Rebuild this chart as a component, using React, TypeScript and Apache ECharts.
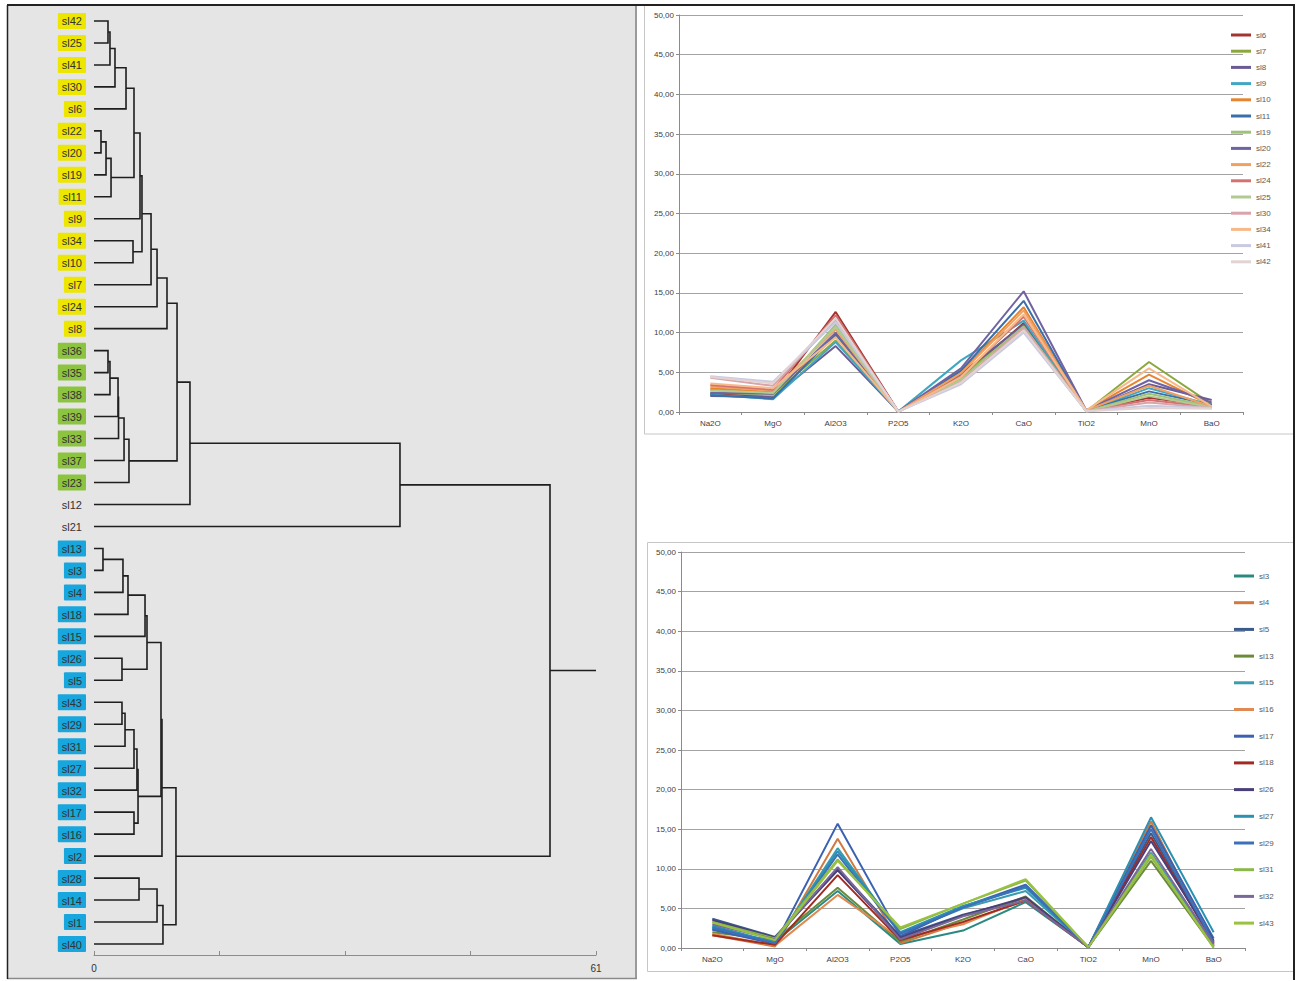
import React, { useEffect, useRef } from 'react';
import * as echarts from 'echarts';

// ---------- Dendrogram data ----------
const leafOrder = [
  'sl42', 'sl25', 'sl41', 'sl30', 'sl6', 'sl22', 'sl20', 'sl19', 'sl11', 'sl9', 'sl34', 'sl10', 'sl7', 'sl24', 'sl8',
  'sl36', 'sl35', 'sl38', 'sl39', 'sl33', 'sl37', 'sl23', 'sl12', 'sl21',
  'sl13', 'sl3', 'sl4', 'sl18', 'sl15', 'sl26', 'sl5', 'sl43', 'sl29', 'sl31', 'sl27', 'sl32', 'sl17', 'sl16', 'sl2',
  'sl28', 'sl14', 'sl1', 'sl40',
];
const yellowLeaves = ['sl42', 'sl25', 'sl41', 'sl30', 'sl6', 'sl22', 'sl20', 'sl19', 'sl11', 'sl9', 'sl34', 'sl10', 'sl7', 'sl24', 'sl8'];
const greenLeaves = ['sl36', 'sl35', 'sl38', 'sl39', 'sl33', 'sl37', 'sl23'];
const blueLeaves = ['sl13', 'sl3', 'sl4', 'sl18', 'sl15', 'sl26', 'sl5', 'sl43', 'sl29', 'sl31', 'sl27', 'sl32', 'sl17', 'sl16', 'sl2', 'sl28', 'sl14', 'sl1', 'sl40'];

// merges: [childA, childB, distance]; numbers refer to earlier merges
const merges: [string | number, string | number, number][] = [
  ['sl42', 'sl25', 1.70], // 0
  [0, 'sl41', 1.94], // 1
  [1, 'sl30', 2.55], // 2
  [2, 'sl6', 3.89], // 3
  ['sl22', 'sl20', 0.85], // 4
  [4, 'sl19', 1.46], // 5
  [5, 'sl11', 2.07], // 6
  [3, 6, 4.86], // 7
  ['sl34', 'sl10', 4.74], // 8
  [7, 'sl9', 5.59], // 9
  [9, 8, 5.83], // 10
  [10, 'sl7', 6.93], // 11
  [11, 'sl24', 7.66], // 12
  [12, 'sl8', 8.87], // 13
  ['sl36', 'sl35', 1.70], // 14
  [14, 'sl38', 1.94], // 15
  [15, 'sl39', 2.92], // 16
  [16, 'sl33', 2.98], // 17
  [17, 'sl37', 3.65], // 18
  [18, 'sl23', 4.25], // 19
  [13, 19, 10.09], // 20
  [20, 'sl12', 11.66], // 21
  [21, 'sl21', 37.18], // 22
  ['sl13', 'sl3', 1.09], // 23
  [23, 'sl4', 3.52], // 24
  [24, 'sl18', 4.13], // 25
  [25, 'sl15', 6.20], // 26
  ['sl26', 'sl5', 3.40], // 27
  [26, 27, 6.44], // 28
  ['sl43', 'sl29', 3.40], // 29
  [29, 'sl31', 3.77], // 30
  [30, 'sl27', 4.86], // 31
  [31, 'sl32', 5.22], // 32
  ['sl17', 'sl16', 4.86], // 33
  [32, 33, 5.35], // 34
  [28, 34, 8.14], // 35
  [35, 'sl2', 8.26], // 36
  ['sl28', 'sl14', 5.47], // 37
  [37, 'sl1', 7.66], // 38
  [38, 'sl40', 8.38], // 39
  [36, 39, 9.96], // 40
  [22, 40, 55.41], // 41
];
const distanceMax = 61;
const distanceTicks = [0, 61];

// ---------- Line chart data ----------
const oxides = ['Na2O', 'MgO', 'Al2O3', 'P2O5', 'K2O', 'CaO', 'TiO2', 'MnO', 'BaO'];
const valueTicks = { min: 0, max: 50, interval: 5 };

const topNames = ['sl6', 'sl7', 'sl8', 'sl9', 'sl10', 'sl11', 'sl19', 'sl20', 'sl22', 'sl24', 'sl25', 'sl30', 'sl34', 'sl41', 'sl42'];
const topColors = ['#a33530', '#8ba83e', '#6b5b92', '#3fa7c2', '#e7842f', '#3b6fa9', '#9ec27a', '#6f63a2', '#f0a060', '#d47272', '#b2ca92', '#d9a3aa', '#f6b98a', '#c9c9e2', '#e2d3d3'];
const top_sl6 = [2.3, 2.0, 12.6, 0.05, 4.3, 11.2, 0.15, 1.8, 0.8];
const top_sl7 = [2.8, 2.2, 9.0, 0.05, 4.6, 10.5, 0.1, 6.3, 1.0];
const top_sl8 = [2.0, 1.9, 8.3, 0.05, 4.8, 11.0, 0.1, 3.5, 1.5];
const top_sl9 = [2.2, 1.6, 8.8, 0.05, 6.5, 11.5, 0.1, 3.0, 0.9];
const top_sl10 = [3.0, 2.5, 9.6, 0.05, 5.0, 13.2, 0.2, 4.7, 0.8];
const top_sl11 = [2.1, 1.7, 9.8, 0.05, 5.2, 14.0, 0.15, 2.6, 0.9];
const top_sl19 = [2.5, 2.1, 11.0, 0.05, 4.2, 10.8, 0.1, 2.3, 0.7];
const top_sl20 = [2.4, 2.3, 10.0, 0.05, 5.5, 15.2, 0.2, 4.0, 1.2];
const top_sl22 = [3.2, 2.7, 10.4, 0.05, 4.9, 12.8, 0.2, 3.3, 0.7];
const top_sl24 = [3.4, 2.8, 12.2, 0.05, 4.5, 12.0, 0.15, 1.5, 0.6];
const top_sl25 = [2.7, 2.4, 10.7, 0.05, 4.0, 10.2, 0.1, 2.0, 0.6];
const top_sl30 = [4.3, 3.3, 11.6, 0.05, 3.8, 10.6, 0.1, 1.2, 0.5];
const top_sl34 = [3.6, 3.0, 9.4, 0.05, 4.4, 12.3, 0.2, 5.5, 0.7];
const top_sl41 = [4.5, 3.8, 11.3, 0.05, 3.5, 10.0, 0.1, 0.8, 0.5];
const top_sl42 = [4.4, 3.6, 11.8, 0.05, 3.7, 10.3, 0.1, 0.5, 0.4];
const topValues = [top_sl6, top_sl7, top_sl8, top_sl9, top_sl10, top_sl11, top_sl19, top_sl20, top_sl22, top_sl24, top_sl25, top_sl30, top_sl34, top_sl41, top_sl42];

const bottomNames = ['sl3', 'sl4', 'sl5', 'sl13', 'sl15', 'sl16', 'sl17', 'sl18', 'sl26', 'sl27', 'sl29', 'sl31', 'sl32', 'sl43'];
const bottomColors = ['#2a8a80', '#d07a40', '#3a5a8a', '#6b8a3a', '#3b9bb1', '#e08a52', '#3b62b0', '#a02b22', '#4a3f7b', '#2b91b2', '#3b71b8', '#8ab84a', '#7a6899', '#9ac240'];
const bot_sl3 = [2.4, 0.8, 7.2, 0.5, 2.2, 5.8, 0.1, 12.0, 0.2];
const bot_sl4 = [1.6, 0.2, 13.8, 0.6, 3.2, 6.0, 0.1, 16.0, 0.3];
const bot_sl5 = [3.7, 1.4, 10.0, 1.5, 4.2, 6.2, 0.1, 14.5, 0.8];
const bot_sl13 = [2.0, 1.0, 7.6, 0.8, 3.6, 6.5, 0.1, 11.0, 0.1];
const bot_sl15 = [2.6, 0.6, 12.6, 1.8, 5.0, 7.2, 0.1, 12.0, 0.3];
const bot_sl16 = [1.8, 0.3, 6.7, 1.2, 3.0, 6.2, 0.1, 15.5, 0.4];
const bot_sl17 = [2.3, 0.5, 15.7, 1.5, 5.2, 8.0, 0.1, 15.5, 1.2];
const bot_sl18 = [1.6, 0.4, 9.2, 1.0, 3.3, 6.0, 0.1, 14.0, 0.6];
const bot_sl26 = [3.5, 1.3, 9.8, 1.3, 4.1, 6.4, 0.1, 13.5, 0.9];
const bot_sl27 = [2.8, 0.7, 12.2, 2.0, 5.3, 7.6, 0.1, 16.5, 2.0];
const bot_sl29 = [2.6, 0.6, 11.8, 1.8, 5.1, 7.8, 0.1, 15.0, 0.7];
const bot_sl31 = [3.3, 1.2, 11.2, 2.4, 5.6, 8.5, 0.1, 11.5, 0.2];
const bot_sl32 = [3.0, 1.1, 10.2, 1.1, 4.0, 6.0, 0.1, 12.5, 0.5];
const bot_sl43 = [3.2, 1.0, 11.0, 2.6, 5.6, 8.7, 0.1, 11.8, 0.0];
const bottomValues = [bot_sl3, bot_sl4, bot_sl5, bot_sl13, bot_sl15, bot_sl16, bot_sl17, bot_sl18, bot_sl26, bot_sl27, bot_sl29, bot_sl31, bot_sl32, bot_sl43];

function buildDendro() {
  const nodeY: number[] = [];
  const resolve = (ref: string | number) => {
    if (typeof ref === 'string') return { y: leafOrder.indexOf(ref), h: 0 };
    return { y: nodeY[ref], h: merges[ref][2] };
  };
  const items: number[][] = [];
  merges.forEach((m, i) => {
    const a = resolve(m[0]);
    const b = resolve(m[1]);
    nodeY[i] = (a.y + b.y) / 2;
    items.push([a.y, a.h, b.y, b.h, m[2]]);
  });
  const last = merges.length - 1;
  return { items, rootY: nodeY[last], rootH: merges[last][2] };
}

const labelFont = '"Liberation Sans", Arial, sans-serif';

export default function App() {
  const ref = useRef<HTMLDivElement>(null);
  useEffect(() => {
    if (!ref.current) return;
    const chart = echarts.init(ref.current, undefined, { renderer: 'svg' });
    const dendro = buildDendro();

    const lineYAxis = (gridIndex: number) => ({
      type: 'value', gridIndex, min: valueTicks.min, max: valueTicks.max, interval: valueTicks.interval,
      axisLine: { show: true, lineStyle: { color: '#8a8a8a' } },
      axisTick: { show: true, length: 3, lineStyle: { color: '#8a8a8a' } },
      axisLabel: { fontSize: 8, color: '#404040', margin: 5, fontFamily: labelFont, formatter: (v: number) => v.toFixed(2).replace('.', ',') },
      splitLine: { show: true, lineStyle: { color: '#a3a3a3', width: 1 } },
    });
    const lineXAxis = (gridIndex: number) => ({
      type: 'category', gridIndex, data: oxides, boundaryGap: true,
      axisLine: { lineStyle: { color: '#8a8a8a' } },
      axisTick: { show: true, length: 3, alignWithLabel: false, lineStyle: { color: '#8a8a8a' } },
      axisLabel: { fontSize: 8, color: '#404040', margin: 7, fontFamily: labelFont },
    });

    const topSeries = topNames.map((n, i) => ({
      name: n, type: 'line', xAxisIndex: 1, yAxisIndex: 2, data: topValues[i], showSymbol: false,
      color: topColors[i], lineStyle: { width: 2, color: topColors[i] }, z: 3,
    }));
    const bottomSeries = bottomNames.map((n, i) => ({
      name: n, type: 'line', xAxisIndex: 2, yAxisIndex: 3, data: bottomValues[i], showSymbol: false,
      color: bottomColors[i], lineStyle: { width: 2, color: bottomColors[i] }, z: 3,
    }));

    const groupOf = (name: string) =>
      yellowLeaves.includes(name) ? 'yel' : greenLeaves.includes(name) ? 'grn' : blueLeaves.includes(name) ? 'blu' : 'non';
    const richBase = { fontSize: 11, color: '#333', fontFamily: labelFont, padding: [3, 4, 2, 4], borderRadius: 1 };

    const option: any = {
      animation: false,
      backgroundColor: '#ffffff',
      textStyle: { fontFamily: labelFont },
      graphic: [
        { type: 'rect', z: -1, shape: { x: 7, y: 5, width: 629, height: 973 }, style: { fill: '#e5e5e5' }, silent: true },
        { type: 'line', z: 100, shape: { x1: 636, y1: 5, x2: 636, y2: 978 }, style: { stroke: '#9a9a9a', lineWidth: 2 }, silent: true },
        { type: 'line', z: 100, shape: { x1: 7, y1: 978.5, x2: 637, y2: 978.5 }, style: { stroke: '#8a8a8a', lineWidth: 1.5 }, silent: true },
        { type: 'rect', z: 50, shape: { x: 644.5, y: 5.5, width: 649, height: 428.5 }, style: { fill: 'none', stroke: '#c6c6c6', lineWidth: 1 }, silent: true },
        { type: 'rect', z: 50, shape: { x: 647.5, y: 542.5, width: 646, height: 429 }, style: { fill: 'none', stroke: '#c6c6c6', lineWidth: 1 }, silent: true },
        { type: 'line', z: 100, shape: { x1: 7, y1: 5, x2: 1295, y2: 5 }, style: { stroke: '#222', lineWidth: 2 }, silent: true },
        { type: 'line', z: 100, shape: { x1: 7.5, y1: 5, x2: 7.5, y2: 979 }, style: { stroke: '#222', lineWidth: 1.5 }, silent: true },
        { type: 'line', z: 100, shape: { x1: 1294, y1: 5, x2: 1294, y2: 980 }, style: { stroke: '#222', lineWidth: 2 }, silent: true },
      ],
      grid: [
        { left: 94, top: 10, width: 502, height: 945 },
        { left: 679, top: 15, width: 564, height: 397 },
        { left: 681, top: 552, width: 564, height: 396 },
      ],
      xAxis: [
        {
          type: 'value', gridIndex: 0, min: 0, max: distanceMax, interval: distanceMax / 4, position: 'bottom',
          axisLine: { onZero: false, lineStyle: { color: '#8c8c8c', width: 1 } },
          axisTick: { show: true, inside: true, length: 4, lineStyle: { color: '#8c8c8c' } },
          axisLabel: { fontSize: 10, color: '#333', margin: 8, fontFamily: labelFont, formatter: (v: number) => (distanceTicks.includes(v) ? String(v) : '') },
          splitLine: { show: false },
        },
        lineXAxis(1),
        lineXAxis(2),
      ],
      yAxis: [
        { type: 'value', gridIndex: 0, min: -0.5, max: leafOrder.length - 0.5, inverse: true, show: false },
        {
          type: 'category', gridIndex: 0, data: leafOrder, inverse: true, position: 'left',
          axisLine: { show: false }, axisTick: { show: false }, splitLine: { show: false },
          axisLabel: {
            margin: 8, interval: 0,
            formatter: (v: string) => `{${groupOf(v)}|${v}}`,
            rich: {
              yel: { ...richBase, backgroundColor: '#ece600' },
              grn: { ...richBase, backgroundColor: '#8cc43f' },
              blu: { ...richBase, backgroundColor: '#17a6de' },
              non: { ...richBase },
            },
          },
        },
        lineYAxis(1),
        lineYAxis(2),
      ],
      legend: [
        {
          data: topNames, orient: 'vertical', left: 1231, top: 29, itemWidth: 20, itemHeight: 3, icon: 'rect',
          itemGap: 4.2, padding: 0, selectedMode: false,
          textStyle: { fontSize: 8, color: '#595959', lineHeight: 12, fontFamily: labelFont },
        },
        {
          data: bottomNames, orient: 'vertical', left: 1234, top: 570, itemWidth: 20, itemHeight: 3, icon: 'rect',
          itemGap: 14.7, padding: 0, selectedMode: false,
          textStyle: { fontSize: 8, color: '#595959', lineHeight: 12, fontFamily: labelFont },
        },
      ],
      series: [
        {
          type: 'custom', xAxisIndex: 0, yAxisIndex: 0, data: dendro.items, clip: false,
          encode: { x: [1, 3, 4], y: [0, 2] },
          renderItem: (params: any, api: any) => {
            const ya = api.value(0), ha = api.value(1), yb = api.value(2), hb = api.value(3), h = api.value(4);
            const pts = [api.coord([ha, ya]), api.coord([h, ya]), api.coord([h, yb]), api.coord([hb, yb])];
            return { type: 'polyline', shape: { points: pts }, style: { stroke: '#1e1e1e', lineWidth: 1.6, fill: null } };
          },
          z: 3,
        },
        {
          type: 'line', xAxisIndex: 0, yAxisIndex: 0, showSymbol: false,
          data: [[dendro.rootH, dendro.rootY], [distanceMax, dendro.rootY]],
          lineStyle: { color: '#1e1e1e', width: 1.6 }, z: 3,
        },
        ...topSeries,
        ...bottomSeries,
      ],
    };
    chart.setOption(option);
    return () => chart.dispose();
  }, []);
  return (
    <div
      ref={ref}
      style={{ position: 'fixed', left: 0, top: 0, width: 1300, height: 981, background: '#fff' }}
    />
  );
}
